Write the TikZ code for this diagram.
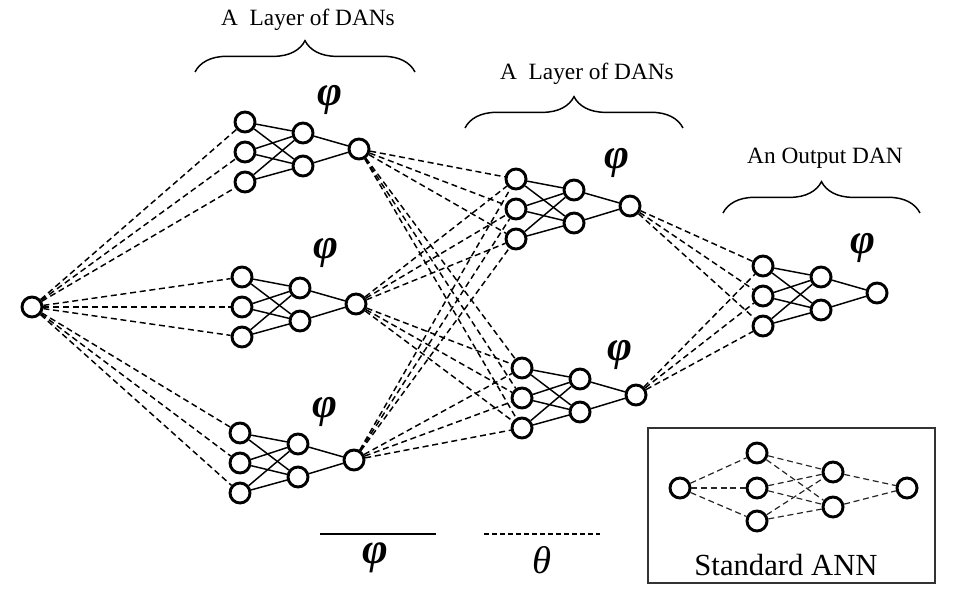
\documentclass[tikz,border=0pt]{standalone}
\usepackage{fontspec}
\setmainfont{Liberation Serif}
\usetikzlibrary{decorations.pathreplacing}
\newcommand\bphi{{\bfseries\itshape φ}}
\newcommand\mkdan[4]{%
  \begin{scope}[shift={(#2,#3)}]
    \node[nd] (#1-i1) at (0,-30) {};
    \node[nd] (#1-i2) at (0,0) {};
    \node[nd] (#1-i3) at (0,30) {};
    \node[nd] (#1-h1) at (58,-19) {};
    \node[nd] (#1-h2) at (58,14) {};
    \node[nd] (#1-o) at (114,-3) {};
  \end{scope}
  \foreach \a in {1,2,3}{\foreach \b in {1,2}{\draw[sol] (#1-i\a) -- (#1-h\b);}}
  \foreach \b in {1,2}{\draw[sol] (#1-h\b) -- (#1-o);}
  \node[phi] (#1-phi) at (#4) {\bphi};
}
\begin{document}
\begin{tikzpicture}[x=0.75pt,y=-0.75pt,
  nd/.style={circle,draw,line width=2.2pt,minimum size=15pt,inner sep=0pt},
  sol/.style={line width=1.1pt},
  dsh/.style={line width=1.1pt,dash pattern=on 4.5pt off 2.8pt},
  ann/.style={line width=0.9pt,dash pattern=on 4.5pt off 2.8pt,draw=black!85},
  lbl/.style={font=\fontsize{17.5}{20}\selectfont,inner sep=0pt},
  phi/.style={font=\fontsize{32}{34}\selectfont,inner sep=0pt},
  brc/.style={decorate,decoration={brace,amplitude=23.5pt},line width=1.1pt}]
\useasboundingbox (0,0) rectangle (957,592);

% input node
\node[nd] (in) at (32,307) {};

% DANs
\mkdan{A}{245}{152}{330,100}
\mkdan{B}{242}{307}{326,253}
\mkdan{C}{240}{463}{325,412}
\mkdan{D}{516}{209}{617,163}
\mkdan{E}{522}{398}{620,355}
\mkdan{F}{763}{296}{863,248}

% dashed connections
\foreach \d in {A,B,C}{\foreach \k in {1,2,3}{\draw[dsh] (in) -- (\d-i\k);}}
\foreach \s in {A,B,C}{\foreach \d in {D,E}{\foreach \k in {1,2,3}{\draw[dsh] (\s-o) -- (\d-i\k);}}}
\foreach \s in {D,E}{\foreach \k in {1,2,3}{\draw[dsh] (\s-o) -- (F-i\k);}}

% braces and labels
\coordinate (b1l) at (195,72); \coordinate (b1r) at (415,72);
\coordinate (b2l) at (465,128); \coordinate (b2r) at (683,128);
\coordinate (b3l) at (723,213); \coordinate (b3r) at (920,213);
\draw[brc] (b1l) -- (b1r);
\draw[brc] (b2l) -- (b2r);
\draw[brc] (b3l) -- (b3r);
\node[lbl] (t1) at (308,20) {A\ \ Layer of DANs};
\node[lbl] (t2) at (587,74) {A\ \ Layer of DANs};
\node[lbl] (t3) at (825,158) {An Output DAN};

% legend
\coordinate (l1) at (320,534); \coordinate (l2) at (436,534);
\coordinate (l3) at (484,534); \coordinate (l4) at (600,534);
\draw[line width=1.3pt] (l1) -- (l2);
\draw[line width=1.1pt,dash pattern=on 3.5pt off 2.5pt] (l3) -- (l4);
\node[inner sep=0pt,font=\fontsize{33}{35}\selectfont] (lphi) at (375,558) {\bphi};
\node[inner sep=0pt,font=\fontsize{29}{31}\selectfont] (ltheta) at (542,560) {\itshape θ};

% standard ANN box
\draw[line width=1.1pt,draw=black!80] (648,428) rectangle (935,583);
\node[nd] (s0) at (680,488) {};
\node[nd] (s1) at (757,453) {};
\node[nd] (s2) at (757,488) {};
\node[nd] (s3) at (757,521) {};
\node[nd] (s4) at (833,472) {};
\node[nd] (s5) at (833,507) {};
\node[nd] (s6) at (907,488) {};
\foreach \k in {1,2,3}{\draw[ann] (s0) -- (s\k);}
\foreach \a in {1,2,3}{\foreach \b in {4,5}{\draw[ann] (s\a) -- (s\b);}}
\foreach \b in {4,5}{\draw[ann] (s\b) -- (s6);}
\node[inner sep=0pt,font=\fontsize{23}{25}\selectfont] (stxt) at (786,565) {Standard ANN};
\end{tikzpicture}
\end{document}
